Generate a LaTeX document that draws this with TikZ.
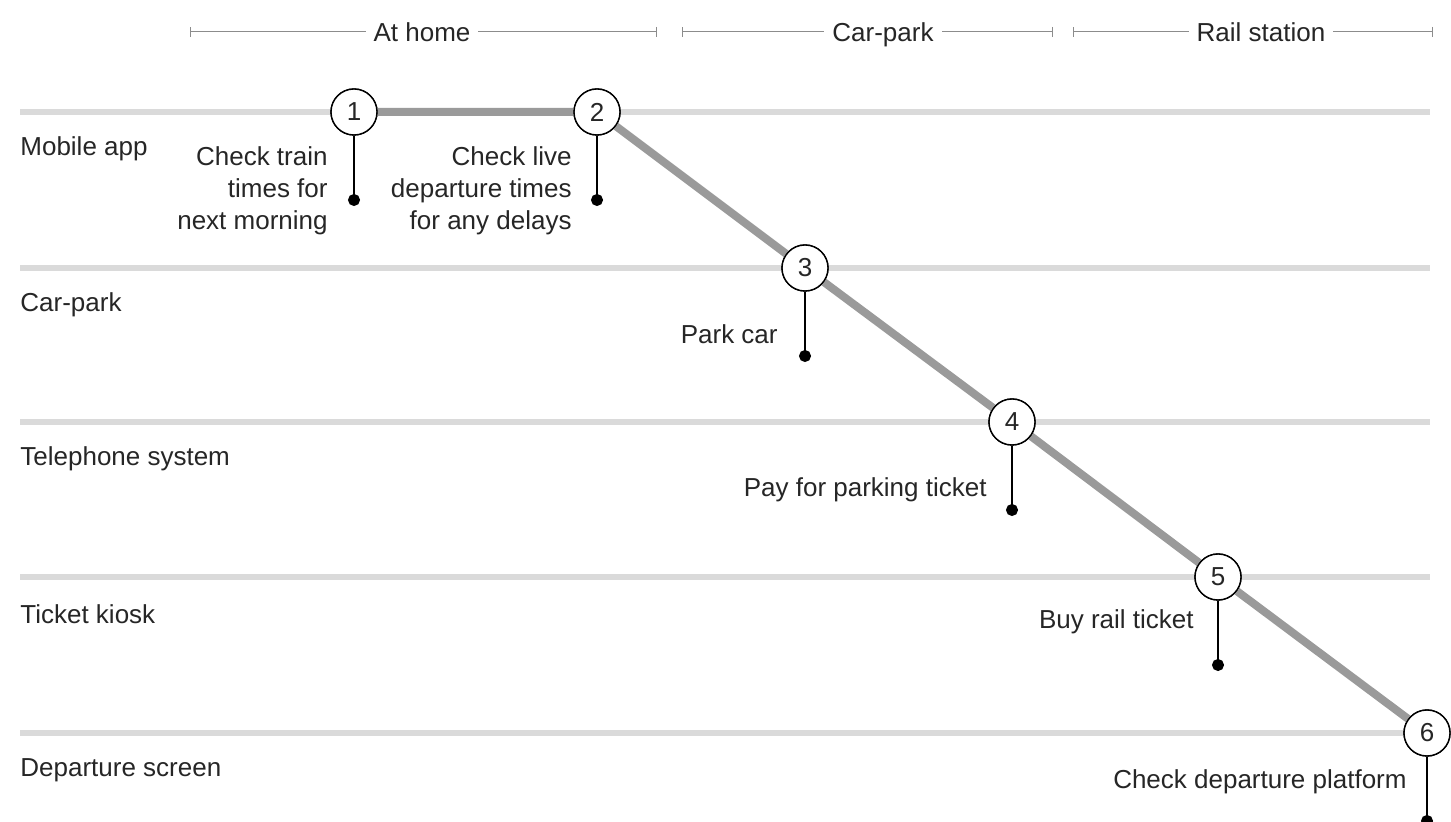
\documentclass[tikz,border=0pt]{standalone}
\usepackage{fontspec}
\setmainfont{Liberation Sans}
\usetikzlibrary{arrows.meta}
\definecolor{lanegrey}{HTML}{DADADA}
\definecolor{pathgrey}{HTML}{9A9A9A}
\definecolor{spangrey}{HTML}{8C8C8C}
\tikzset{
  every node/.append style={font=\fontsize{13}{16}\selectfont, text=black!85},
  lane/.style={lanegrey, line width=3pt},
  journey/.style={pathgrey, line width=4pt},
  touch/.style={circle, draw=black, line width=0.7pt, fill=white, minimum size=23pt, inner sep=0pt},
  pinline/.style={black, line width=0.7pt, -{Circle[length=6pt]}},
  note/.style={align=right, inner sep=0pt},
  span/.style={spangrey, line width=0.5pt, {Bar[width=5pt]}-{Bar[width=5pt]}},
  phase/.style={fill=white, inner xsep=4pt, inner ysep=3pt, text height=9.3pt, text depth=0pt},
}
\begin{document}
\begin{tikzpicture}[x=0.5pt, y=-0.5pt]
    \useasboundingbox (0,0) rectangle (1451,822);

    % phases along the top
    \draw[span] (190,32) -- (657,32);
    \node[phase] (home) at (422,32) {At home};
    \draw[span] (682,32) -- (1053,32);
    \node[phase] (carpark) at (883,32) {Car-park};
    \draw[span] (1073,32) -- (1433,32);
    \node[phase] (station) at (1261,32) {Rail station};

    % channels
    \foreach \y/\name in {112/Mobile app, 268/Car-park, 422/Telephone system, 577/Ticket kiosk, 733/Departure screen} {
        \draw[lane] (20,\y) -- (1430,\y);
        \node[anchor=west, inner sep=0pt] at (20,\y+37) {\name};
    }

    % touchpoints
    \node[touch] (n1) at (354,112) {1};
    \node[touch] (n2) at (597,112) {2};
    \node[touch] (n3) at (805,268) {3};
    \node[touch] (n4) at (1012,422) {4};
    \node[touch] (n5) at (1218,577) {5};
    \node[touch] (n6) at (1427,733) {6};

    \draw[journey] (n1) -- (n2) -- (n3) -- (n4) -- (n5) -- (n6);
    \foreach \n in {1,...,6} {
        \node[touch] at (n\n) {\n};
    }

    % pins
    \foreach \n in {1,...,6} {
        \coordinate (p\n) at ([yshift=-47pt]n\n.center);
        \draw[pinline] (n\n.south) -- (p\n);
    }

    % notes
    \node[note, anchor=north east] (t1) at (328,146) {Check train\\times for\\next morning};
    \node[note, anchor=north east] (t2) at (572,146) {Check live\\departure times\\for any delays};
    \node[note, anchor=east] (t3) at (778,334) {Park car};
    \node[note, anchor=east] (t4) at (987,490) {Pay for parking ticket};
    \node[note, anchor=east] (t5) at (1194,622) {Buy rail ticket};
    \node[note, anchor=east] (t6) at (1407,782) {Check departure platform};
\end{tikzpicture}
\end{document}
